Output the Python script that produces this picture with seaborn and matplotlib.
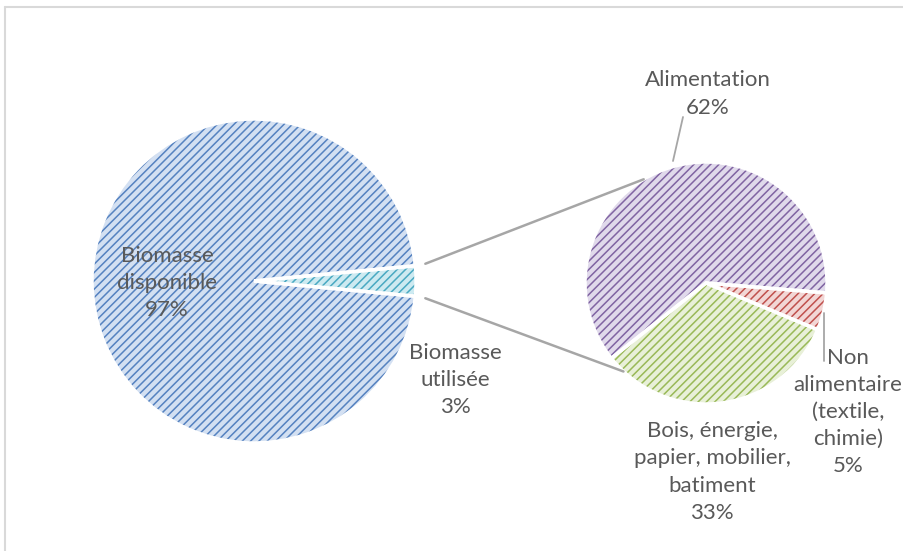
import numpy as np
import matplotlib
matplotlib.use("Agg")
import matplotlib.pyplot as plt
import seaborn as sns

# ---- data ----
main_labels = ["Biomasse\ndisponible\n97%", "Biomasse\nutilisée\n3%"]
main_values = [97, 3]
sub_labels = ["Alimentation\n62%", "Bois, énergie,\npapier, mobilier,\nbatiment\n33%",
              "Non\nalimentaire\n(textile,\nchimie)\n5%"]
sub_values = [62, 33, 5]

main_stripe = ["#5582c0", "#49a9c2"]
main_fill = ["#d3e0f2", "#cdeaf1"]
sub_stripe = ["#8064a2", "#99b957", "#c0504d"]
sub_fill = ["#e0d9eb", "#e8f0d8", "#f2d6d5"]

sns.set_theme(style="white")
plt.rcParams["font.family"] = ["Lato", "DejaVu Sans"]
plt.rcParams["hatch.linewidth"] = 1.1

W, H = 904, 551
fig = plt.figure(figsize=(W / 100, H / 100), dpi=100)
ax = fig.add_axes([0, 0, 1, 1])
ax.set_xlim(0, W)
ax.set_ylim(0, H)
ax.set_aspect("equal")
ax.axis("off")

# frame (top and left border visible)
ax.plot([5, W], [H - 7, H - 7], color="#d9d9d9", lw=1.5)
ax.plot([5, 5], [0, H - 7], color="#d9d9d9", lw=1.5)

c1, r1 = (254, 270), 162
c2, r2 = (706, 268), 121

half = main_values[1] / sum(main_values) * 180
start1 = half
start2 = -4.7

def hatched_pie(values, center, radius, start, fills, stripes, explode):
    ax.pie(values, center=center, radius=radius, startangle=start,
           colors=fills, explode=explode, wedgeprops=dict(linewidth=0))
    wedges, _ = ax.pie(values, center=center, radius=radius, startangle=start,
                       colors=["none"] * len(values), explode=explode,
                       wedgeprops=dict(linewidth=0))
    for w, s in zip(wedges, stripes):
        w.set_hatch("////")
        w.set_edgecolor(s)
        w.set_linewidth(0)
    ax.pie(values, center=center, radius=radius, startangle=start,
           colors=["none"] * len(values), explode=explode,
           wedgeprops=dict(linewidth=2.5, edgecolor="white"))

hatched_pie(main_values, c1, r1, start1, main_fill, main_stripe, [0, 0.025])
hatched_pie(sub_values, c2, r2, start2, sub_fill, sub_stripe, [0, 0, 0])

ax.set_xlim(0, W)
ax.set_ylim(0, H)

# connector lines
ex = 0.025 * r1
top1 = (c1[0] + ex + r1 * np.cos(np.radians(half)) + 6, c1[1] + r1 * np.sin(np.radians(half)) + 2)
bot1 = (c1[0] + ex + r1 * np.cos(np.radians(-half)) + 6, c1[1] + r1 * np.sin(np.radians(-half)) - 2)
a_top, a_bot = np.radians(121), np.radians(-133)
top2 = (c2[0] + r2 * np.cos(a_top), c2[1] + r2 * np.sin(a_top))
bot2 = (c2[0] + r2 * np.cos(a_bot), c2[1] + r2 * np.sin(a_bot))
ax.plot([top1[0], top2[0]], [top1[1], top2[1]], color="#a6a6a6", lw=1.8)
ax.plot([bot1[0], bot2[0]], [bot1[1], bot2[1]], color="#a6a6a6", lw=1.8)

# leader lines
ax.plot([683, 673], [H - 117, H - 161], color="#a6a6a6", lw=1.3)
ax.plot([824, 824], [H - 313, H - 361], color="#a6a6a6", lw=1.3)

tc = "#595959"
fs = 16
kw = dict(ha="center", va="center", color=tc, fontsize=fs, linespacing=1.45)
ax.text(167, H - 283, main_labels[0], **kw)
ax.text(455, H - 380, main_labels[1], **kw)
ax.text(708, H - 94, sub_labels[0], **kw)
ax.text(712, H - 472, sub_labels[1], **kw)
ax.text(848, H - 412, sub_labels[2], **kw)

fig.savefig("out.png", dpi=100)
